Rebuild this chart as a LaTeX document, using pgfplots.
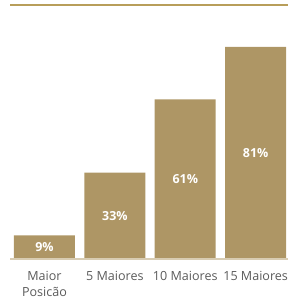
\documentclass[border=0pt]{standalone}
\usepackage{pgfplots}
\usepackage{pgfplotstable}
\pgfplotsset{compat=1.18}
\usepackage{fontspec}
\setmainfont{Open Sans}
\definecolor{barc}{RGB}{174,150,101}
\definecolor{basec}{RGB}{216,204,178}
\definecolor{topc}{RGB}{184,158,90}
\definecolor{tickc}{RGB}{90,90,90}
\pgfplotstableread{
x y label
0 9 9\%
1 33 33\%
2 61 61\%
3 81 81\%
}\datatable
\begin{document}
\begin{tikzpicture}
\useasboundingbox (0,0) rectangle (288bp,299bp);
\begin{axis}[
  at={(10bp,40bp)}, anchor=south west,
  scale only axis, width=278bp, height=254bp,
  xmin=-0.49, xmax=3.46, ymin=0, ymax=97,
  axis line style={draw=none},
  major tick length=0pt,
  ytick=\empty,
  xtick=data,
  xticklabels={{Maior\\Posicão},{5 Maiores},{10 Maiores},{15 Maiores}},
  xticklabel style={align=center, text=tickc, font=\fontsize{12.6}{16}\selectfont, yshift=-9bp},
  clip=false,
]
\addplot[ybar, bar width=61bp, fill=barc, draw=none] table[x=x, y=y] {\datatable};
\addplot[draw=none, mark=none, nodes near coords, point meta=explicit symbolic,
  every node near coord/.style={anchor=center, text=white, font=\bfseries\fontsize{12.5}{15}\selectfont}]
  table[x=x, y expr=\thisrow{y}/2, meta=label] {\datatable};
\draw[basec, line width=1.2bp] (rel axis cs:0,0) -- (rel axis cs:1,0);
\draw[topc, line width=1.4bp] (rel axis cs:0,1) -- (rel axis cs:1,1);
\end{axis}
\end{tikzpicture}
\end{document}
